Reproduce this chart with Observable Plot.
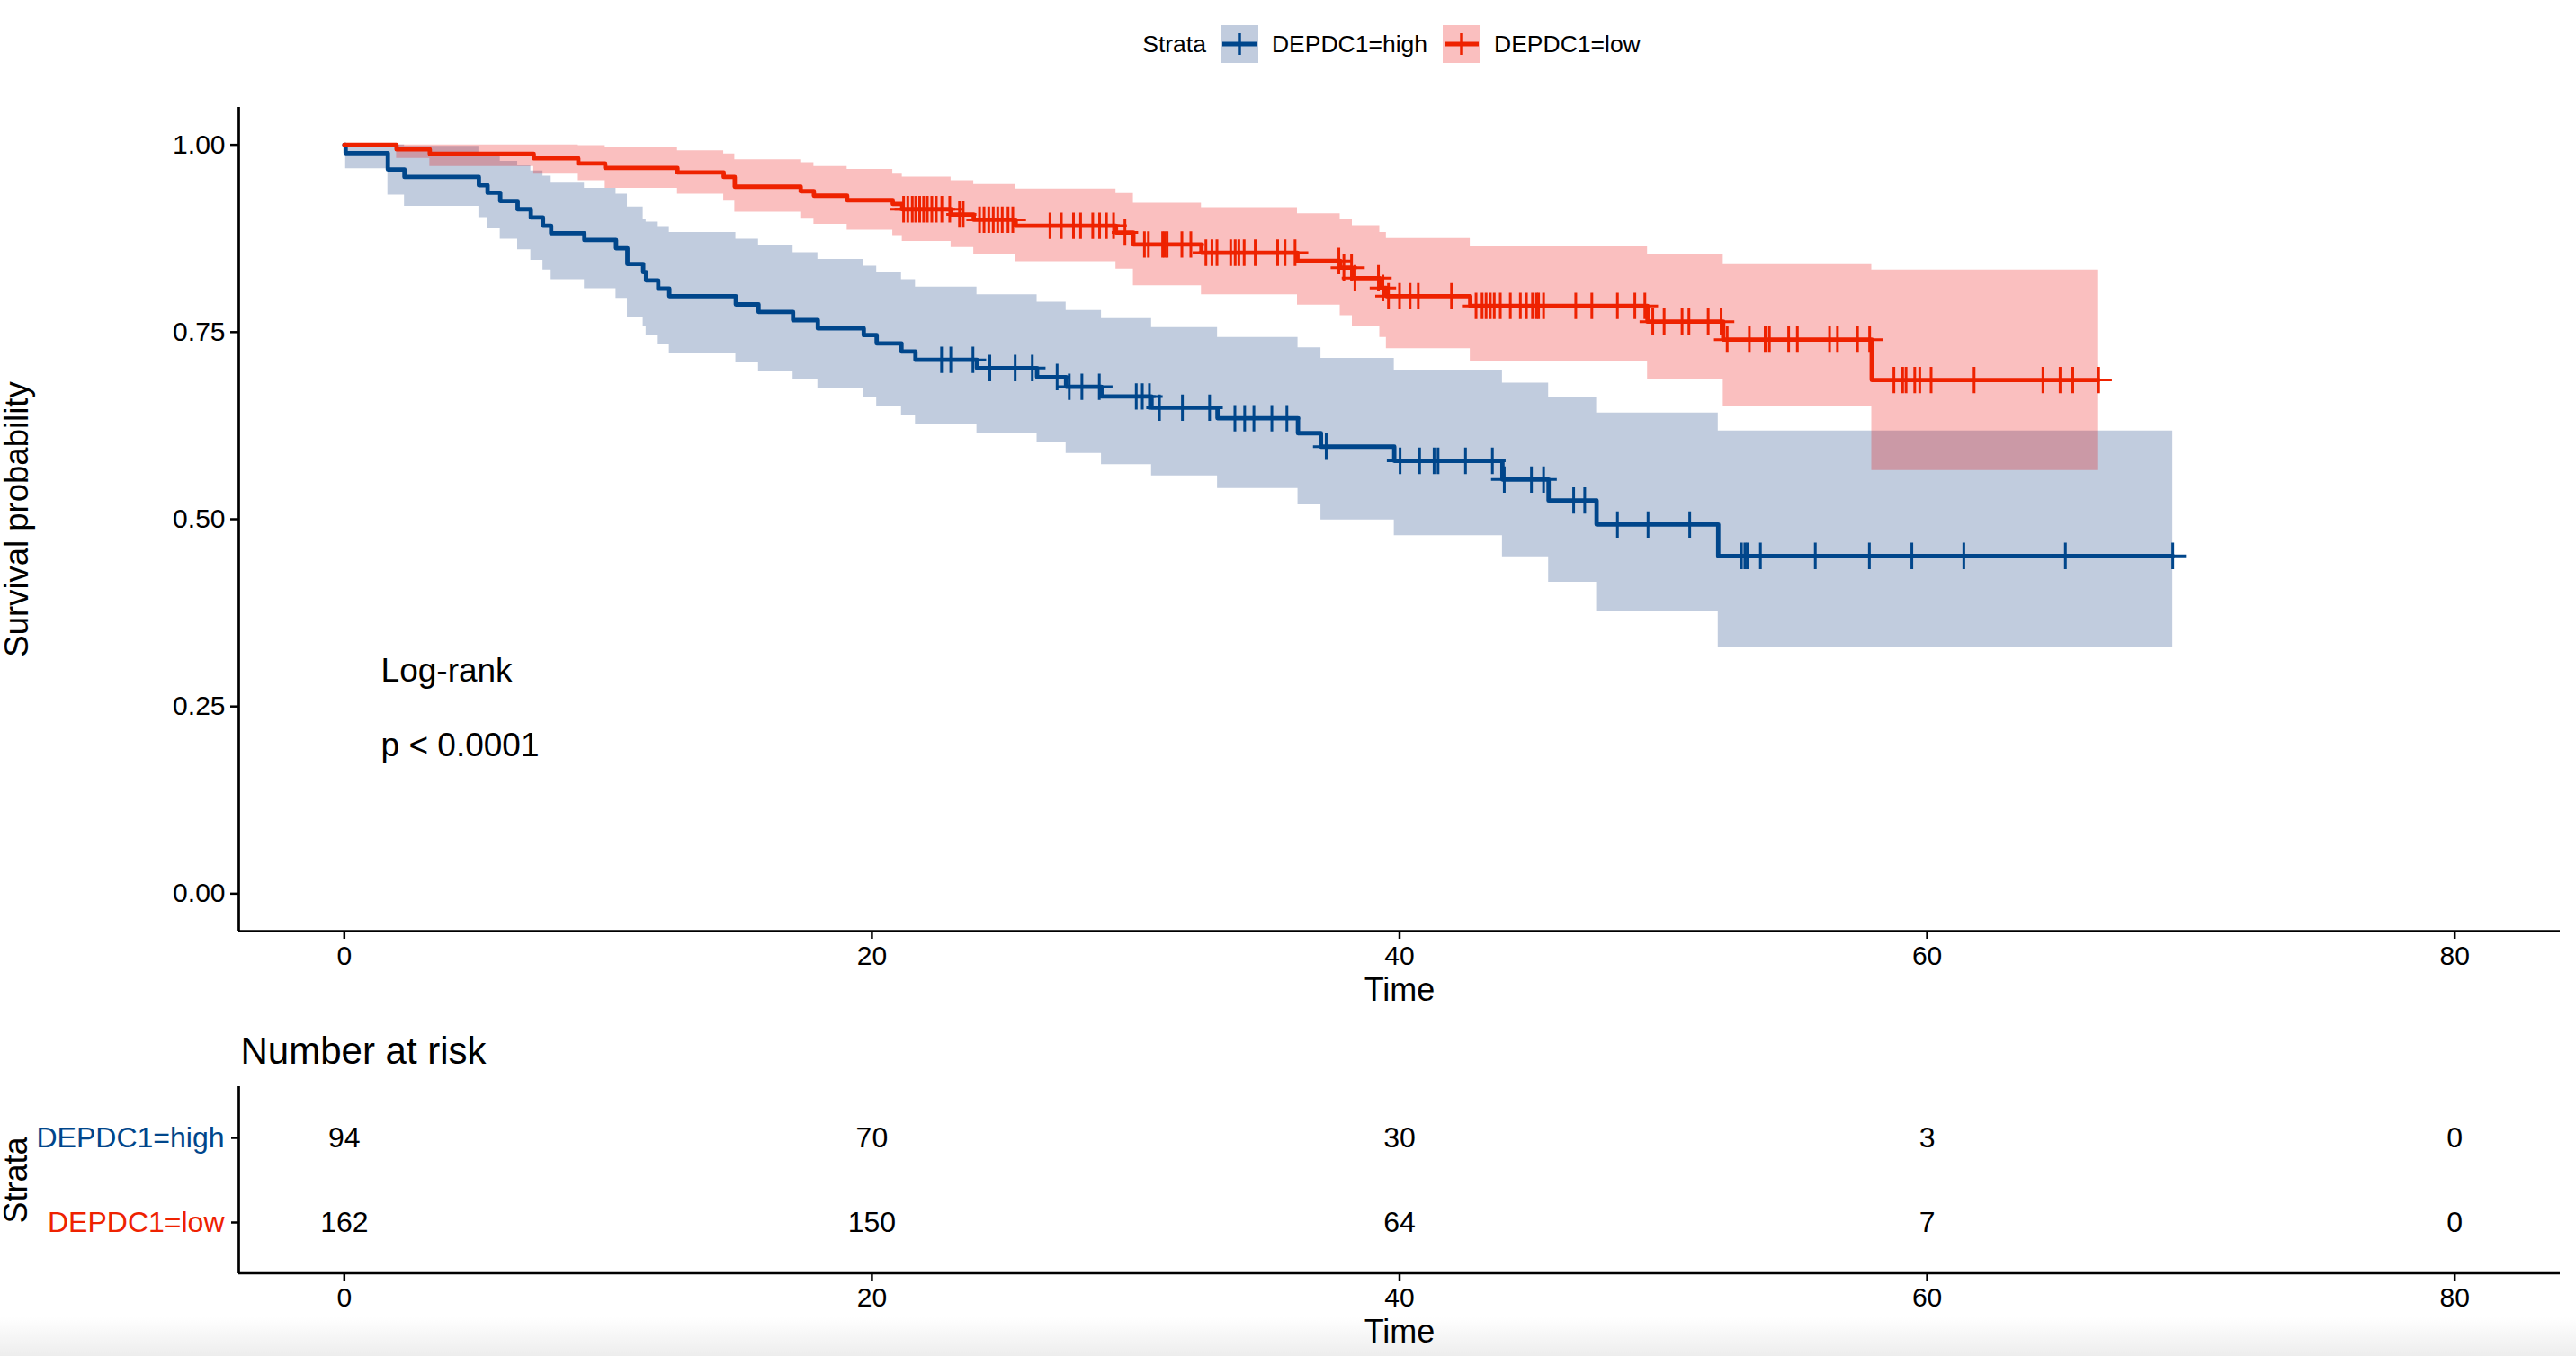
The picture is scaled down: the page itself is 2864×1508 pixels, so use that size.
<!DOCTYPE html>
<html>
<head>
<meta charset="utf-8">
<script src="https://cdn.jsdelivr.net/npm/d3@7"></script>
<script src="https://cdn.jsdelivr.net/npm/@observablehq/plot@0.6"></script>
<style>
html, body { margin: 0; padding: 0; background: #fff; }
#page { position: relative; width: 2864px; height: 1508px; overflow: hidden; font-family: "Liberation Sans", Arial, sans-serif; background: #fff; }
#shade { position: absolute; left: 0; right: 0; bottom: 0; height: 44px; background: linear-gradient(to bottom, rgba(0,0,0,0), rgba(0,0,0,0.07)); }
#legend { position: absolute; top: 28px; left: 265px; width: 2581px; height: 42px; display: flex; justify-content: center; align-items: center; font-size: 26.5px; color: #000; }
#legend .ttl { margin-right: 16px; }
#legend .lab { margin-left: 15px; margin-right: 17px; }
#legend svg { display: block; }
#main { position: absolute; left: 0; top: 80px; }
#risk { position: absolute; left: 0; top: 1130px; }
</style>
</head>
<body>
<div id="page">
  <div id="shade"></div>
  <div id="legend"></div>
  <div id="main"></div>
  <div id="risk"></div>
</div>
<script>
// ---------------- data ----------------
const strata = ["DEPDC1=high", "DEPDC1=low"];
const lineColors = ["#00468B", "#EE2200"];
const bandColors = ["#07337B", "#EB0000"];

// DEPDC1=high : step times, survival, lower CI, upper CI
const highTime  = [0, 0.05, 1.65, 2.28, 5.10, 5.43, 5.91, 6.57, 7.07, 7.53, 7.84, 9.10, 10.30, 10.73, 11.33, 11.44, 11.90, 12.32, 14.84, 15.70, 17.01, 17.95, 19.69, 20.18, 21.12, 21.65, 23.98, 26.26, 27.36, 28.70, 30.60, 33.10, 36.15, 37.02, 39.80, 43.90, 45.65, 47.47, 52.08, 69.31];
const highSurv  = [1.000, 0.989, 0.967, 0.957, 0.946, 0.936, 0.925, 0.914, 0.903, 0.892, 0.882, 0.873, 0.862, 0.841, 0.830, 0.819, 0.808, 0.798, 0.787, 0.777, 0.766, 0.755, 0.746, 0.735, 0.724, 0.713, 0.702, 0.690, 0.677, 0.664, 0.649, 0.635, 0.615, 0.597, 0.578, 0.553, 0.525, 0.493, 0.451, 0.451];
const highLower = [1.000, 0.968, 0.933, 0.918, 0.903, 0.888, 0.874, 0.860, 0.846, 0.833, 0.820, 0.808, 0.795, 0.770, 0.757, 0.745, 0.733, 0.721, 0.709, 0.697, 0.686, 0.674, 0.662, 0.650, 0.639, 0.627, 0.615, 0.602, 0.588, 0.573, 0.558, 0.541, 0.520, 0.499, 0.478, 0.450, 0.416, 0.377, 0.329, 0.329];
const highUpper = [1.000, 1.000, 1.000, 0.998, 0.990, 0.984, 0.978, 0.972, 0.965, 0.958, 0.950, 0.942, 0.934, 0.917, 0.900, 0.897, 0.891, 0.883, 0.874, 0.865, 0.856, 0.847, 0.838, 0.829, 0.820, 0.810, 0.800, 0.790, 0.779, 0.768, 0.756, 0.743, 0.729, 0.715, 0.699, 0.682, 0.662, 0.642, 0.618, 0.618];
const highCensor = [22.64, 22.99, 23.83, 24.47, 25.43, 26.08, 27.02, 27.48, 27.96, 28.62, 30.02, 30.25, 30.52, 30.90, 31.77, 32.80, 33.76, 34.13, 34.48, 35.16, 35.73, 37.22, 40.02, 40.76, 41.31, 41.46, 42.50, 43.52, 43.97, 45.00, 45.46, 46.60, 47.02, 48.26, 49.42, 51.00, 52.96, 53.09, 53.18, 53.68, 55.76, 57.81, 59.42, 61.39, 65.24, 69.31];

// DEPDC1=low
const lowTime  = [0, 1.98, 3.24, 7.18, 8.87, 9.89, 12.63, 14.38, 14.80, 17.30, 17.80, 19.06, 20.79, 21.15, 23.00, 23.86, 25.45, 29.25, 29.91, 32.49, 36.13, 37.75, 38.21, 39.25, 39.50, 42.68, 49.40, 52.27, 57.90, 66.50];
const lowSurv  = [1.000, 0.994, 0.988, 0.982, 0.975, 0.969, 0.963, 0.957, 0.944, 0.938, 0.932, 0.926, 0.921, 0.914, 0.907, 0.900, 0.892, 0.883, 0.867, 0.856, 0.845, 0.836, 0.822, 0.809, 0.798, 0.785, 0.764, 0.740, 0.686, 0.686];
const lowLower = [1.000, 0.982, 0.971, 0.962, 0.952, 0.942, 0.934, 0.926, 0.910, 0.902, 0.894, 0.886, 0.879, 0.871, 0.863, 0.854, 0.844, 0.834, 0.812, 0.800, 0.786, 0.772, 0.757, 0.743, 0.728, 0.711, 0.686, 0.651, 0.565, 0.565];
const lowUpper = [1.000, 1.000, 1.000, 1.000, 0.999, 0.996, 0.992, 0.988, 0.980, 0.976, 0.971, 0.967, 0.962, 0.957, 0.952, 0.947, 0.941, 0.935, 0.922, 0.916, 0.908, 0.900, 0.892, 0.883, 0.875, 0.864, 0.853, 0.840, 0.833, 0.833];
const lowCensor = [21.20, 21.36, 21.53, 21.66, 21.81, 21.96, 22.10, 22.27, 22.44, 22.65, 22.95, 23.32, 23.46, 24.08, 24.25, 24.43, 24.60, 24.77, 24.94, 25.16, 25.34, 26.75, 27.18, 27.64, 27.91, 28.37, 28.63, 28.89, 29.16, 29.59, 30.33, 30.48, 31.02, 31.10, 31.19, 31.75, 32.09, 32.66, 32.89, 33.08, 33.60, 33.77, 33.91, 34.11, 34.53, 35.38, 35.66, 36.04, 37.70, 37.89, 38.18, 38.31, 39.20, 39.37, 39.58, 40.00, 40.40, 40.71, 41.97, 42.90, 43.13, 43.28, 43.44, 43.59, 43.82, 44.20, 44.58, 44.81, 45.04, 45.19, 45.27, 45.46, 46.68, 47.29, 48.26, 48.92, 49.30, 49.60, 50.03, 50.71, 50.97, 51.70, 52.19, 52.42, 53.26, 53.86, 54.02, 54.75, 55.08, 56.30, 56.60, 57.36, 57.82, 58.74, 59.07, 59.20, 59.53, 59.72, 60.15, 61.78, 64.39, 65.04, 65.52, 66.50];

// number at risk
const riskTimes = [0, 20, 40, 60, 80];
const riskHigh = [94, 70, 30, 3, 0];
const riskLow = [162, 150, 64, 7, 0];

// scales / ticks / annotation
const xDomain = [-4, 84];
const yDomain = [-0.05, 1.05];
const xTicks = [0, 20, 40, 60, 80];
const yTicks = [0, 0.25, 0.50, 0.75, 1.00];
const pvalLines = ["Log-rank", "p < 0.0001"];
const pvalX = 1.39;
const pvalY = [0.30, 0.20];

// ---------------- build tables ----------------
function rows(time, surv, lower, upper) {
  return time.map((t, i) => ({time: t, surv: surv[i], lower: lower[i], upper: upper[i]}));
}
function survAt(time, surv, t) {
  let v = surv[0];
  for (let i = 0; i < time.length; i++) if (time[i] <= t) v = surv[i];
  return v;
}
const highRows = rows(highTime, highSurv, highLower, highUpper);
const lowRows = rows(lowTime, lowSurv, lowLower, lowUpper);
const highCens = highCensor.map(t => ({time: t, surv: survAt(highTime, highSurv, t)}));
const lowCens = lowCensor.map(t => ({time: t, surv: survAt(lowTime, lowSurv, t)}));

const FONT = '"Liberation Sans", Arial, sans-serif';

// ---------------- legend ----------------
const legend = document.getElementById("legend");
const ttl = document.createElement("span"); ttl.className = "ttl"; ttl.textContent = "Strata";
legend.appendChild(ttl);
strata.forEach((s, i) => {
  const ns = "http://www.w3.org/2000/svg";
  const svg = document.createElementNS(ns, "svg");
  svg.setAttribute("width", 42); svg.setAttribute("height", 42);
  const r = document.createElementNS(ns, "rect");
  r.setAttribute("width", 42); r.setAttribute("height", 42);
  r.setAttribute("fill", bandColors[i]); r.setAttribute("fill-opacity", 0.25);
  svg.appendChild(r);
  const h = document.createElementNS(ns, "line");
  h.setAttribute("x1", 2); h.setAttribute("x2", 40); h.setAttribute("y1", 21); h.setAttribute("y2", 21);
  h.setAttribute("stroke", lineColors[i]); h.setAttribute("stroke-width", 5);
  svg.appendChild(h);
  const v = document.createElementNS(ns, "line");
  v.setAttribute("x1", 21); v.setAttribute("x2", 21); v.setAttribute("y1", 9); v.setAttribute("y2", 33);
  v.setAttribute("stroke", lineColors[i]); v.setAttribute("stroke-width", 3.5);
  svg.appendChild(v);
  legend.appendChild(svg);
  const lab = document.createElement("span"); lab.className = "lab"; lab.textContent = s;
  legend.appendChild(lab);
});

// panel-bottom axis line drawn through the x scale
function bottomLine(index, scales, values, dimensions) {
  const yb = dimensions.height - dimensions.marginBottom;
  const line = document.createElementNS("http://www.w3.org/2000/svg", "line");
  line.setAttribute("x1", scales.x(xDomain[0]));
  line.setAttribute("x2", scales.x(xDomain[1]));
  line.setAttribute("y1", yb);
  line.setAttribute("y2", yb);
  line.setAttribute("stroke", "#000");
  line.setAttribute("stroke-width", 2.7);
  return line;
}

// ---------------- main survival plot ----------------
const main = Plot.plot({
  width: 2864, height: 1050,
  marginTop: 39, marginBottom: 95, marginLeft: 265, marginRight: 18,
  style: {fontFamily: FONT, fontSize: "30px", background: "transparent", color: "#000"},
  x: {domain: xDomain, label: null},
  y: {domain: yDomain, label: null},
  marks: [
    Plot.areaY(highRows, {x: "time", y1: "lower", y2: "upper", curve: "step-after", fill: bandColors[0], fillOpacity: 0.25}),
    Plot.areaY(lowRows, {x: "time", y1: "lower", y2: "upper", curve: "step-after", fill: bandColors[1], fillOpacity: 0.25}),
    Plot.line(highRows, {x: "time", y: "surv", curve: "step-after", stroke: lineColors[0], strokeWidth: 4.8}),
    Plot.line(lowRows, {x: "time", y: "surv", curve: "step-after", stroke: lineColors[1], strokeWidth: 4.8}),
    Plot.dot(highCens, {x: "time", y: "surv", symbol: "plus", r: 9.5, stroke: lineColors[0], strokeWidth: 3, fill: "none"}),
    Plot.dot(lowCens, {x: "time", y: "surv", symbol: "plus", r: 9.5, stroke: lineColors[1], strokeWidth: 3, fill: "none"}),
    Plot.ruleX([xDomain[0]], {stroke: "#000", strokeWidth: 2.7}),
    Plot.ruleY([yDomain[0]], {stroke: "#000", strokeWidth: 2.7}),
    Plot.axisX({ticks: xTicks, tickSize: 9, tickPadding: 7, strokeWidth: 2.5, fontSize: 30, label: null, fill: "#000"}),
    Plot.axisY({ticks: yTicks, tickSize: 9, tickPadding: 6, strokeWidth: 2.5, fontSize: 30, label: null, tickFormat: d3.format(".2f"), fill: "#000"}),
    Plot.text(["Time"], {frameAnchor: "bottom", lineAnchor: "middle", textAnchor: "middle", dy: 66, fontSize: 36, fill: "#000"}),
    Plot.text(["Survival probability"], {frameAnchor: "left", lineAnchor: "middle", textAnchor: "middle", dx: -246, rotate: -90, fontSize: 36.5, fill: "#000"}),
    Plot.text(pvalLines, {x: () => pvalX, y: (d, i) => pvalY[i], text: d => d, textAnchor: "start", lineAnchor: "middle", dy: 2, fontSize: 37, fill: "#000"})
  ]
});
document.getElementById("main").appendChild(main);

// ---------------- number at risk table ----------------
const risk = Plot.plot({
  width: 2864, height: 378,
  marginTop: 78, marginBottom: 92, marginLeft: 265, marginRight: 18,
  style: {fontFamily: FONT, fontSize: "30px", background: "transparent", color: "#000"},
  x: {domain: xDomain, label: null},
  y: {type: "point", domain: strata, padding: 0.6, label: null},
  marks: [
    Plot.ruleX([xDomain[0]], {stroke: "#000", strokeWidth: 2.7}),
    bottomLine,
    Plot.axisX({ticks: xTicks, tickSize: 9, tickPadding: 6, strokeWidth: 2.5, fontSize: 30, label: null, fill: "#000"}),
    Plot.axisY({tickSize: 8, tickPadding: 6, strokeWidth: 2.5, label: null, tickFormat: () => ""}),
    Plot.text([strata[0]], {y: d => d, frameAnchor: "left", lineAnchor: "middle", dx: -16, textAnchor: "end", fill: lineColors[0], fontSize: 32}),
    Plot.text([strata[1]], {y: d => d, frameAnchor: "left", lineAnchor: "middle", dx: -16, textAnchor: "end", fill: lineColors[1], fontSize: 32}),
    Plot.text(riskTimes, {x: d => d, y: () => strata[0], text: (d, i) => String(riskHigh[i]), fontSize: 32, fill: "#000"}),
    Plot.text(riskTimes, {x: d => d, y: () => strata[1], text: (d, i) => String(riskLow[i]), fontSize: 32, fill: "#000"}),
    Plot.text(["Number at risk"], {frameAnchor: "top-left", lineAnchor: "middle", dx: 2, dy: -39, textAnchor: "start", fontSize: 42, fill: "#000"}),
    Plot.text(["Strata"], {frameAnchor: "left", lineAnchor: "middle", textAnchor: "middle", dx: -247, rotate: -90, fontSize: 36, fill: "#000"}),
    Plot.text(["Time"], {frameAnchor: "bottom", lineAnchor: "middle", textAnchor: "middle", dy: 65, fontSize: 36, fill: "#000"})
  ]
});
document.getElementById("risk").appendChild(risk);
</script>
</body>
</html>
